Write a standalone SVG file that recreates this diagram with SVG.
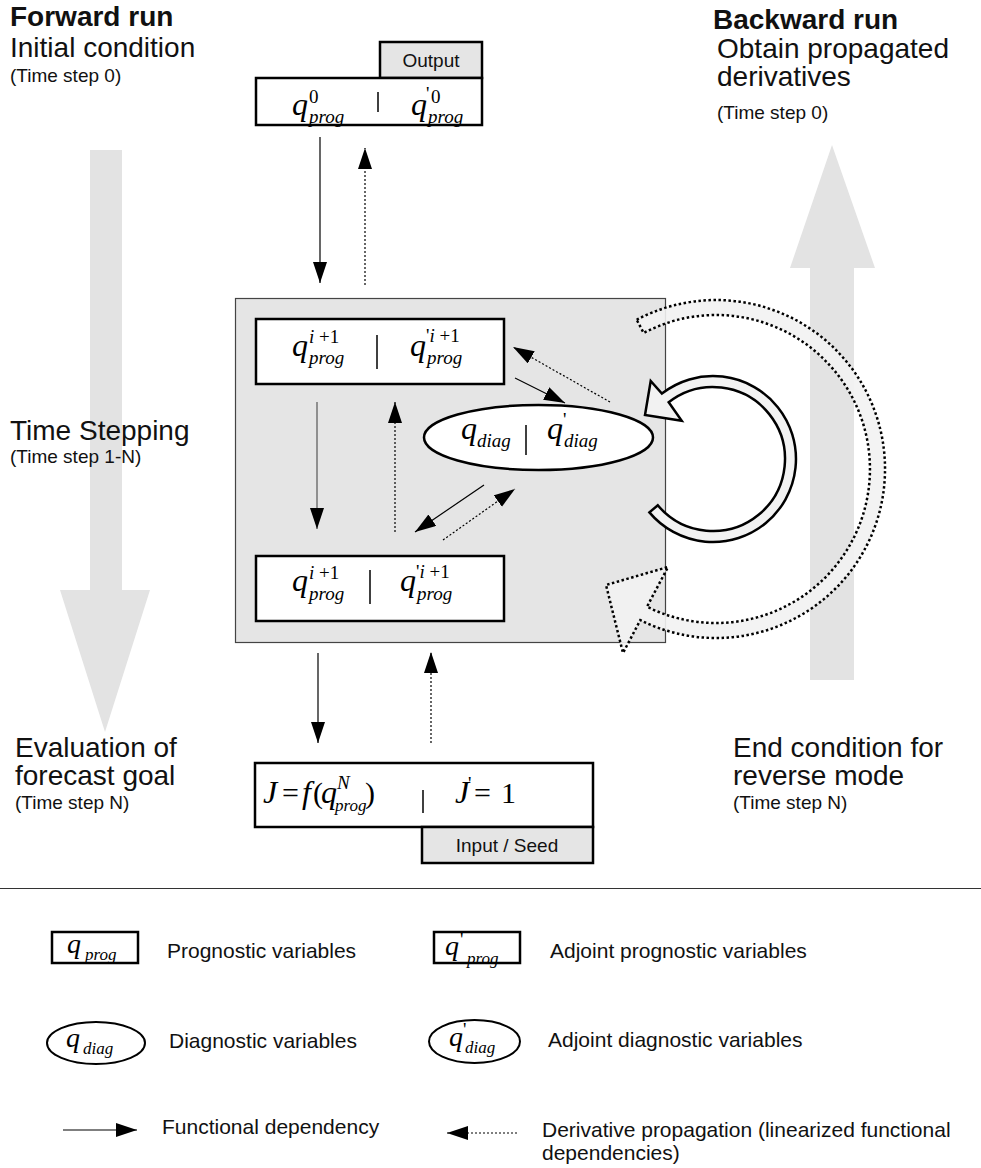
<svg xmlns="http://www.w3.org/2000/svg" width="981" height="1168" viewBox="0 0 981 1168">
<style>
.big{font-family:"Liberation Sans",Arial,sans-serif;font-size:28px;fill:#111}
.bold{font-weight:bold}
.sm{font-family:"Liberation Sans",Arial,sans-serif;font-size:19px;fill:#111}
.lg{font-family:"Liberation Sans",Arial,sans-serif;font-size:21px;fill:#111}
.mq{font-family:"Liberation Serif","Times New Roman",serif;font-style:italic;font-size:32px;fill:#000}
.ms{font-family:"Liberation Serif","Times New Roman",serif;font-style:italic;font-size:19px;fill:#000}
.mu{font-family:"Liberation Serif","Times New Roman",serif;font-style:normal;font-size:19px;fill:#000}
.mU{font-family:"Liberation Serif","Times New Roman",serif;font-style:normal;font-size:30px;fill:#000}
.lq{font-family:"Liberation Serif","Times New Roman",serif;font-style:italic;font-size:28px;fill:#000}
.ls{font-family:"Liberation Serif","Times New Roman",serif;font-style:italic;font-size:17px;fill:#000}
.box{fill:#fff;stroke:#000;stroke-width:2.5}
.tab{fill:#e5e5e5;stroke:#000;stroke-width:2.5}
.div{stroke:#000;stroke-width:1.5}
.solid{stroke:#000;stroke-width:1.2;fill:none;marker-end:url(#ah)}
.dot{stroke:#000;stroke-width:1.2;stroke-dasharray:2,2;fill:none;marker-end:url(#ah)}
.gray{fill:#e3e3e3}
</style>
<defs>
<marker id="ah" markerUnits="userSpaceOnUse" markerWidth="22" markerHeight="16" refX="21" refY="7" orient="auto">
<path d="M0,0 L21,7 L0,14 z" fill="#000"/>
</marker>
</defs>
<rect width="981" height="1168" fill="#fff"/>

<g id="bigarrows">
<polygon class="gray" points="90,150 122,150 122,590 150,590 105,732 60,590 90,590"/>
<polygon class="gray" points="810,680 854,680 854,268 875,268 832,145 790,268 810,268"/>
</g>

<g id="labels">
<text class="big bold" x="10" y="26">Forward run</text>
<text class="big" x="10" y="57">Initial condition</text>
<text class="sm" x="10" y="82">(Time step 0)</text>
<text class="big bold" x="713" y="29">Backward run</text>
<text class="big" x="717" y="58">Obtain propagated</text>
<text class="big" x="717" y="86">derivatives</text>
<text class="sm" x="717" y="119">(Time step 0)</text>
<text class="big" x="10" y="440">Time Stepping</text>
<text class="sm" x="10" y="463">(Time step 1-N)</text>
<text class="big" x="15" y="757">Evaluation of</text>
<text class="big" x="15" y="785">forecast goal</text>
<text class="sm" x="15" y="809">(Time step N)</text>
<text class="big" x="733" y="757">End condition for</text>
<text class="big" x="733" y="785">reverse mode</text>
<text class="sm" x="733" y="809">(Time step N)</text>
</g>

<g id="timestep-box">
<rect x="235.5" y="298.5" width="430" height="344" fill="#e5e5e5" stroke="#444" stroke-width="1.2"/>
</g>

<g id="node-initial">
<rect class="tab" x="380" y="42" width="102" height="36"/>
<text class="sm" x="431" y="67" text-anchor="middle">Output</text>
<rect class="box" x="256" y="78" width="226" height="47"/>
<line class="div" x1="378" y1="92" x2="378" y2="112"/>
<text class="mq" x="292" y="115">q</text>
<text class="mu" x="309" y="103">0</text>
<text class="ms" x="309" y="123">prog</text>
<text class="mq" x="411" y="115">q</text>
<text class="mu" x="426" y="100">'</text>
<text class="mu" x="431" y="103">0</text>
<text class="ms" x="428" y="123">prog</text>
</g>

<g id="node-step-top">
<rect class="box" x="256" y="319" width="248" height="65"/>
<line class="div" x1="377" y1="335" x2="377" y2="369"/>
<text class="mq" x="292" y="356">q</text>
<text class="ms" x="309" y="343">i<tspan class="mu"> +1</tspan></text>
<text class="ms" x="309" y="364">prog</text>
<text class="mq" x="410" y="356">q</text>
<text class="mu" x="426" y="342">'<tspan class="ms">i</tspan> +1</text>
<text class="ms" x="427" y="364">prog</text>
</g>

<g id="node-diag">
<ellipse cx="538.5" cy="437.5" rx="114.5" ry="32.5" fill="#fff" stroke="#000" stroke-width="2.5"/>
<line class="div" x1="526" y1="425" x2="526" y2="455"/>
<text class="mq" x="461" y="439">q</text>
<text class="ms" x="477" y="447">diag</text>
<text class="mq" x="547" y="439">q</text>
<text class="mu" x="563" y="426">'</text>
<text class="ms" x="564" y="447">diag</text>
</g>

<g id="node-step-bottom">
<rect class="box" x="256" y="556" width="248" height="65"/>
<line class="div" x1="370" y1="570" x2="370" y2="604"/>
<text class="mq" x="292" y="591">q</text>
<text class="ms" x="309" y="579">i<tspan class="mu"> +1</tspan></text>
<text class="ms" x="309" y="600">prog</text>
<text class="mq" x="400" y="591">q</text>
<text class="mu" x="416" y="578">'<tspan class="ms">i</tspan> +1</text>
<text class="ms" x="417" y="600">prog</text>
</g>

<g id="node-goal">
<rect class="box" x="255" y="763" width="338" height="64"/>
<rect class="tab" x="422" y="827" width="171" height="36"/>
<text class="sm" x="507" y="852" text-anchor="middle">Input / Seed</text>
<line class="div" x1="423" y1="790" x2="423" y2="813"/>
<text class="mq" x="263" y="803">J</text>
<text class="mU" x="282" y="803">=</text>
<text class="mq" x="302" y="803">f</text>
<text class="mU" x="313" y="803">(</text>
<text class="mq" x="321" y="803">q</text>
<text class="ms" x="337" y="789">N</text>
<text class="ms" x="335" y="811" style="font-size:17px">prog</text>
<text class="mU" x="365" y="803">)</text>
<text class="mq" x="455" y="803">J</text>
<text class="mu" x="468" y="790">'</text>
<text class="mU" x="474" y="803">=</text>
<text class="mU" x="501" y="803">1</text>
</g>

<g id="connectors">
<line class="solid" x1="320" y1="137" x2="320" y2="283"/>
<line class="dot" x1="365" y1="285" x2="365" y2="148"/>
<line class="solid" x1="317" y1="402" x2="317" y2="529" style="stroke:#555"/>
<line class="dot" x1="395" y1="532" x2="395" y2="402"/>
<line class="solid" x1="515" y1="378" x2="565" y2="403"/>
<line class="dot" x1="610" y1="402" x2="513" y2="347"/>
<line class="solid" x1="484" y1="485" x2="415" y2="532"/>
<line class="dot" x1="443" y1="540" x2="515" y2="489"/>
<line class="solid" x1="318" y1="653" x2="318" y2="743"/>
<line class="dot" x1="431" y1="743" x2="431" y2="652"/>
<path d="M649.4,512.4 A83,83 0 1 0 661.9,393.6 L650.7,381 L645,415 L681.7,420.7 L668.7,402.3 A72,72 0 1 1 657.8,505.3 Z" fill="#f2f2f2" stroke="#000" stroke-width="2.5" stroke-linejoin="miter"/>
<path d="M636.7,319.8 A169,169 0 1 1 640.3,620.1 L623,653 L606,585 L668,567 L647,606.7 A154,154 0 1 0 643.7,333 Z" fill="#f2f2f2" fill-opacity="0.9" stroke="#000" stroke-width="2.5" stroke-dasharray="2.5,2.5"/>
</g>

<line x1="0" y1="888.5" x2="981" y2="888.5" stroke="#333" stroke-width="1"/>

<g id="legend">
<g id="legend-prog">
<rect class="box" x="52" y="932" width="86" height="31" stroke-width="2"/>
<text class="lq" x="67" y="953">q</text>
<text class="ls" x="85" y="960">prog</text>
<text class="lg" x="167" y="958">Prognostic variables</text>
</g>
<g id="legend-adjprog">
<rect class="box" x="434" y="932" width="86" height="31" stroke-width="2"/>
<text class="lq" x="445" y="955">q</text>
<text class="mu" x="460" y="946">'</text>
<text class="ls" x="467" y="964">prog</text>
<text class="lg" x="550" y="958">Adjoint prognostic variables</text>
</g>
<g id="legend-diag">
<ellipse cx="96" cy="1043" rx="49" ry="21" fill="#fff" stroke="#000" stroke-width="2"/>
<text class="lq" x="66" y="1047">q</text>
<text class="ls" x="83" y="1054">diag</text>
<text class="lg" x="169" y="1048">Diagnostic variables</text>
</g>
<g id="legend-adjdiag">
<ellipse cx="474.5" cy="1041.5" rx="45.5" ry="21.5" fill="#fff" stroke="#000" stroke-width="2"/>
<text class="lq" x="449" y="1046">q</text>
<text class="mu" x="463" y="1036">'</text>
<text class="ls" x="465" y="1053">diag</text>
<text class="lg" x="548" y="1047">Adjoint diagnostic variables</text>
</g>
<g id="legend-func">
<line class="solid" x1="63" y1="1130" x2="137" y2="1130"/>
<text class="lg" x="162" y="1134">Functional dependency</text>
</g>
<g id="legend-deriv">
<line class="dot" x1="517" y1="1133" x2="447" y2="1133"/>
<text class="lg" x="542" y="1137">Derivative propagation (linearized functional</text>
<text class="lg" x="542" y="1160">dependencies)</text>
</g>
</g>
</svg>
